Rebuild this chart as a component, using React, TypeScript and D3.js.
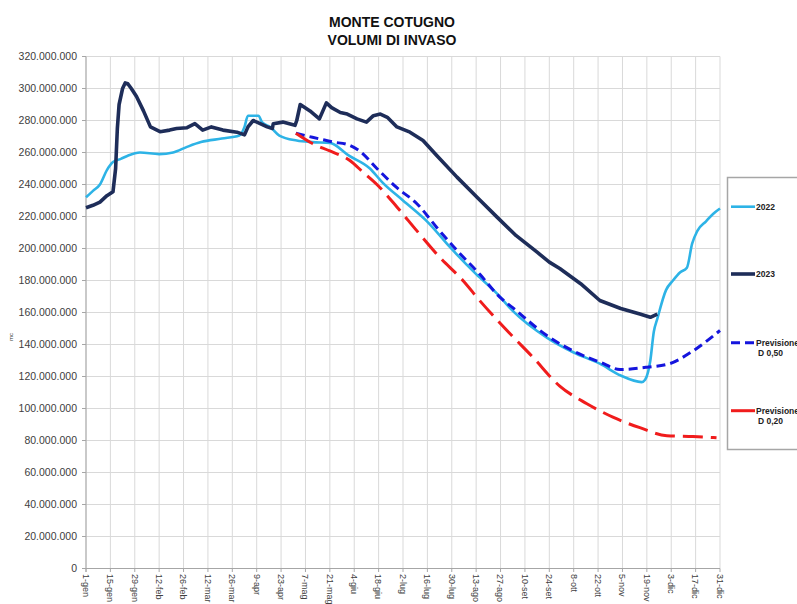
import React from "react";
import * as d3 from "d3";

// giorno dell'anno (0 = 1-gen) e volume in milioni di mc
const days2022 = [0, 4, 8, 12, 15.5, 20, 24, 31, 42, 50, 58, 66, 78, 88, 91, 93, 99, 101, 106, 111, 121, 130, 140, 151, 163, 170, 182, 197, 209, 224, 236, 245, 265, 280, 295, 307, 319, 321, 324, 326, 328, 333, 337, 341, 345, 348, 351, 356, 360, 364];
const vol2022 = [232, 236, 240, 249, 254, 256, 258, 260, 259, 260, 263.5, 266.5, 268.7, 270.6, 276, 283, 283, 279, 275.8, 270.6, 267.5, 266.5, 266, 258, 250, 241.5, 230, 215.6, 200.8, 184, 171.8, 161, 144, 135, 128, 120.6, 116.5, 118, 130, 148, 156, 174, 180, 185, 188, 203, 211, 217, 221.6, 225];

const days2023 = [0, 4, 8, 12, 15.5, 17, 18, 19, 21, 22.5, 24, 26, 29, 33, 37, 42.5, 48, 52, 58, 62.5, 67, 72, 78.6, 86.7, 91, 93, 96, 100, 104, 107, 107.5, 113, 120, 121, 123, 128.6, 134, 138, 141, 146, 150, 155.6, 161, 165, 169, 173, 178.5, 186, 193.5, 201.5, 213, 224.5, 236, 247, 259, 266, 272, 284, 295, 307, 318, 324, 328];
const vol2023 = [225.5, 227, 229, 233, 235.5, 250, 275, 290, 300, 303.5, 303, 300, 295, 286, 276, 273, 274, 275, 275.5, 278, 274, 276, 274, 272.7, 271, 276, 280, 278, 276, 275, 278, 279, 277, 280, 290, 286, 281, 291, 288, 285, 284, 281, 279, 283, 284, 282, 276, 272.7, 267.5, 258, 244.6, 232, 219.6, 208, 197.7, 191.5, 187.5, 178, 167.5, 162.5, 159, 157, 159];

const daysD50 = [120.5, 130, 136, 142, 150, 157, 167, 178.5, 190, 201.5, 213, 226, 237.6, 245, 264.6, 279.6, 295, 306.6, 322, 335, 348.5, 364];
const volD50 = [272, 269.5, 268, 266.5, 265, 261, 250, 238, 228, 213, 198.75, 184, 169.6, 163, 145.6, 136, 129, 124.4, 125.8, 128, 136, 148.75];

const daysD20 = [120.5, 130, 140, 151.5, 159, 167, 178.5, 190, 203, 216.4, 226, 241.7, 256.6, 272, 287.6, 302.5, 318, 333.5, 348.5, 362];
const volD20 = [272, 265.6, 261, 255, 247.7, 240, 226, 211, 194.6, 180, 167.5, 148.75, 132, 114, 103, 94.6, 88, 83, 82.5, 81.7];

const tickLabels = ["1-gen", "15-gen", "29-gen", "12-feb", "26-feb", "12-mar", "26-mar", "9-apr", "23-apr", "7-mag", "21-mag", "4-giu", "18-giu", "2-lug", "16-lug", "30-lug", "13-ago", "27-ago", "10-set", "24-set", "8-ott", "22-ott", "5-nov", "19-nov", "3-dic", "17-dic", "31-dic"];
const yTicks = [0, 20, 40, 60, 80, 100, 120, 140, 160, 180, 200, 220, 240, 260, 280, 300, 320];

const font = "'Liberation Sans', Arial, sans-serif";

const itLocale = d3.formatLocale({ decimal: ",", thousands: ".", grouping: [3], currency: ["", " €"] });
const fmt = itLocale.format(",");

const zip = (d: number[], v: number[]) => d.map((x, i) => [x, v[i]] as [number, number]);

export default function App() {
  const x = d3.scaleLinear().domain([0, 364]).range([86, 720]);
  const y = d3.scaleLinear().domain([0, 320]).range([568.5, 56.5]);

  const smooth = d3.line<[number, number]>().x(d => x(d[0])).y(d => y(d[1])).curve(d3.curveMonotoneX);
  const jagged = d3.line<[number, number]>().x(d => x(d[0])).y(d => y(d[1]));

  const series = [
    { name: ["2022"], d: smooth(zip(days2022, vol2022)), color: "#2db3e6", w: 2.6, dash: "", ly: 206.7 },
    { name: ["2023"], d: jagged(zip(days2023, vol2023)), color: "#1e2d59", w: 3.6, dash: "", ly: 274 },
    { name: ["Previsione", "D 0,50"], d: smooth(zip(daysD50, volD50)), color: "#1515dd", w: 3, dash: "9,5", ly: 342.7 },
    { name: ["Previsione", "D 0,20"], d: smooth(zip(daysD20, volD20)), color: "#f01c1c", w: 3, dash: "20,8", ly: 410.7 },
  ];

  return (
    <svg width={797} height={604} style={{ position: "absolute", left: 0, top: 0, background: "#fff" }} fontFamily={font}>
      <rect width={797} height={604} fill="#fff" />
      <text x={392} y={27} textAnchor="middle" fontSize={14} fontWeight="bold" fill="#111">MONTE COTUGNO</text>
      <text x={392} y={45} textAnchor="middle" fontSize={14} fontWeight="bold" fill="#111">VOLUMI DI INVASO</text>

      {/* griglia */}
      <g stroke="#d9d9d9" strokeWidth={1}>
        {yTicks.map(t => <line key={"h" + t} x1={86} x2={720} y1={y(t)} y2={y(t)} />)}
        {tickLabels.map((l, i) => <line key={"v" + l} x1={x(i * 14)} x2={x(i * 14)} y1={56.5} y2={568.5} />)}
      </g>

      {/* assi */}
      <g stroke="#a6a6a6" strokeWidth={1}>
        <line x1={86} x2={86} y1={56.5} y2={572} />
        <line x1={82} x2={720} y1={568.5} y2={568.5} />
        {yTicks.map(t => <line key={"yt" + t} x1={82} x2={86} y1={y(t)} y2={y(t)} />)}
        {tickLabels.map((l, i) => <line key={"xt" + l} x1={x(i * 14)} x2={x(i * 14)} y1={568.5} y2={572} />)}
      </g>
      {yTicks.map(t => (
        <text key={"yl" + t} x={77} y={y(t)} dy="0.35em" textAnchor="end" fontSize={10.5} fill="#404040">{fmt(t * 1e6)}</text>
      ))}
      {tickLabels.map((l, i) => (
        <text key={"xl" + l} transform={`translate(${x(i * 14)},574) rotate(90)`} dy="0.35em" fontSize={9} fill="#404040">{l}</text>
      ))}
      <text transform="translate(13,337) rotate(-90)" textAnchor="middle" fontSize={6} fill="#404040">mc</text>

      {/* serie */}
      {series.map(s => (
        <path key={s.name.join(" ")} d={s.d || ""} fill="none" stroke={s.color} strokeWidth={s.w}
          strokeDasharray={s.dash || undefined} strokeLinejoin="round" />
      ))}

      {/* legenda */}
      <rect x={727.5} y={177.5} width={90} height={272} fill="#fff" stroke="#a6a6a6" strokeWidth={1.5} />
      {series.map(s => (
        <g key={"lg" + s.name.join(" ")}>
          <line x1={731} x2={755} y1={s.ly} y2={s.ly} stroke={s.color} strokeWidth={s.w}
            strokeDasharray={s.dash === "9,5" ? s.dash : undefined} />
          {s.name.map((t, j) => (
            <text key={t} x={j === 0 ? 756 : 758} y={s.ly + j * 10.5} dy="0.35em" fontSize={8.5} fontWeight="bold" fill="#222">{t}</text>
          ))}
        </g>
      ))}
    </svg>
  );
}
